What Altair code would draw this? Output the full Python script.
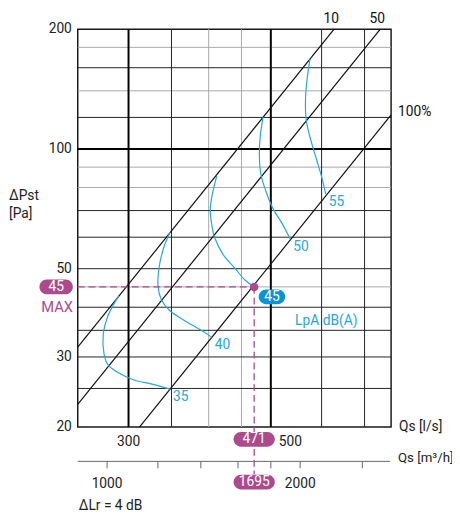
import altair as alt
import pandas as pd

FONT = "Roboto"
FS = 14
BLUE = "#27a6e0"
BLUE_BUBBLE = "#0a93d6"
PURPLE = "#ad4a8c"
DARK = "#222222"
LIGHT = "#a8a8a8"

# grid / tick values
x_grid_major = [300, 500]
x_grid_dark = [350, 600, 700]
x_grid_light = [400, 450]
y_grid_major = [100]
y_grid_dark = [25, 30, 35, 40, 50, 60, 70, 120, 160]
y_grid_light = [45, 80, 90, 140, 180]
y_labels = [20, 30, 50, 100, 200]
m3h_ticks = [1000, 1200, 1400, 1600, 1800, 2000, 2500]
m3h_labels = [1000, 2000]

# system lines (dp ~ Q^2), end points
sys_names = ["10", "50", "100%"]
sys_q = [[250, 627.5], [250, 740.7], [312.0, 770]]
sys_p = [[31.75, 200], [22.8, 200], [20, 121.8]]

# LpA iso-curves
curve_levels = [35, 40, 45, 50, 55]
curve_q = [
    [289.6, 284.5, 278.0, 274.0, 274.7, 278.6, 287.9, 305.3, 327.6, 348.2],
    [348.2, 340.1, 334.7, 333.5, 337.3, 347.4, 368.3, 390.7, 404.7],
    [411.9, 405.7, 402.3, 404.7, 408.5, 421.9, 439.3, 455.1, 471.0],
    [486.5, 481.5, 479.8, 482.7, 491.3, 503.0, 521.0, 536.4],
    [575.6, 569.0, 566.2, 567.6, 575.6, 589.4, 599.8, 609.0],
]
curve_p = [
    [42.7, 40.7, 37.7, 34.3, 30.6, 28.7, 27.5, 26.3, 25.6, 24.9],
    [61.8, 56.2, 50.2, 45.2, 41.9, 39.3, 36.9, 34.9, 33.6],
    [85.6, 77.5, 70.5, 64.2, 60.0, 54.1, 50.2, 46.9, 45.0],
    [120.6, 108.1, 96.5, 86.1, 78.3, 71.2, 64.8, 59.3],
    [168.6, 147.7, 131.8, 118.7, 107.0, 93.8, 85.3, 77.0],
]

# operating point
op_q = 471
op_p = 45
op_m3h = 1695
op_lpa = 45

W, H = 319, 405
xs = alt.Scale(type="log", domain=[250, 770], nice=False, zero=False)
ys = alt.Scale(type="log", domain=[20, 200], nice=False, zero=False)
X = lambda f="q": alt.X(f"{f}:Q", scale=xs, axis=None)
Y = lambda f="p": alt.Y(f"{f}:Q", scale=ys, axis=None)


def vrules(vals, color, width):
    return alt.Chart(pd.DataFrame({"q": vals})).mark_rule(
        color=color, strokeWidth=width).encode(x=X())


def hrules(vals, color, width):
    return alt.Chart(pd.DataFrame({"p": vals})).mark_rule(
        color=color, strokeWidth=width).encode(y=Y())


def pill(w, h):
    r = h / 2
    a = w / 2 - r
    return (f"M{-a},{-r}H{a}A{r},{r},0,0,1,{a},{r}H{-a}"
            f"A{r},{r},0,0,1,{-a},{-r}Z")


def label(text, x, y, **kw):
    return alt.Chart(pd.DataFrame({"t": [text]})).mark_text(**kw).encode(
        text="t:N", x=x, y=y)


layers = []
layers += [vrules(x_grid_light, LIGHT, 1), hrules(y_grid_light, LIGHT, 1),
           vrules(x_grid_dark, DARK, 1), hrules(y_grid_dark, DARK, 1),
           vrules(x_grid_major, "#000", 2), hrules(y_grid_major, "#000", 2)]

# system lines
rows = []
for n, qs, ps in zip(sys_names, sys_q, sys_p):
    for i, (q, p) in enumerate(zip(qs, ps)):
        rows.append({"name": n, "q": q, "p": p, "i": i})
sys_df = pd.DataFrame(rows)
layers.append(alt.Chart(sys_df).mark_line(color="#111", strokeWidth=1.2).encode(
    x=X(), y=Y(), detail="name:N", order="i:Q"))

# curves
rows = []
for lv, qs, ps in zip(curve_levels, curve_q, curve_p):
    for i, (q, p) in enumerate(zip(qs, ps)):
        rows.append({"lvl": str(lv), "q": q, "p": p, "i": i})
cdf = pd.DataFrame(rows)
layers.append(alt.Chart(cdf).mark_line(color=BLUE, strokeWidth=1.2,
                                       interpolate="catmull-rom").encode(
    x=X(), y=Y(), detail="lvl:N", order="i:Q"))

# curve labels at curve ends
ends = pd.DataFrame([{"t": str(lv), "q": qs[-1], "p": ps[-1]}
                     for lv, qs, ps in zip(curve_levels, curve_q, curve_p)
                     if lv != op_lpa])
layers.append(alt.Chart(ends).mark_text(align="left", baseline="middle", dx=3, dy=8,
                                        fontSize=FS, color=BLUE).encode(
    x=X(), y=Y(), text="t:N"))

# system line labels
top_lab = sys_df[(sys_df.i == 1) & (sys_df.name != "100%")]
layers.append(alt.Chart(top_lab).mark_text(align="center", baseline="middle", dx=-3, dy=-10,
                                           fontSize=FS, color="#111").encode(
    x=X(), y=Y(), text="name:N"))
right_lab = sys_df[(sys_df.i == 1) & (sys_df.name == "100%")]
layers.append(alt.Chart(right_lab).mark_text(align="left", baseline="middle", dx=7, dy=-3,
                                             fontSize=FS, color="#111").encode(
    x=X(), y=Y(), text="name:N"))

# y axis labels
layers.append(alt.Chart(pd.DataFrame({"p": y_labels})).mark_text(
    align="right", baseline="middle", fontSize=FS, color="#222").encode(
    y=Y(), x=alt.value(-6), text="p:Q"))
# x axis labels (l/s)
layers.append(label("300", alt.X("q:Q", scale=xs, axis=None), alt.value(420),
                    fontSize=FS, color="#222").transform_calculate(q="300"))
layers.append(label("500", alt.X("q:Q", scale=xs, axis=None), alt.value(420),
                    fontSize=FS, color="#222", dx=20).transform_calculate(q="500"))

# m3/h axis
layers.append(alt.Chart(pd.DataFrame({"a": [0]})).mark_rule(color="#666", strokeWidth=1).encode(
    x=alt.value(0), x2=alt.value(318), y=alt.value(440)))
mt = pd.DataFrame({"m3h": m3h_ticks})
layers.append(alt.Chart(mt).transform_calculate(q="datum.m3h / 3.6").mark_rule(
    color="#666", strokeWidth=1).encode(x=X(), y=alt.value(440), y2=alt.value(447)))
ml = pd.DataFrame({"m3h": m3h_labels})
layers.append(alt.Chart(ml).transform_calculate(q="datum.m3h / 3.6").mark_text(
    baseline="middle", fontSize=FS, color="#222").encode(
    x=X(), y=alt.value(463), text="m3h:Q"))

# operating point annotations
op = pd.DataFrame({"q": [op_q], "p": [op_p], "m3h": [op_m3h], "lpa": [op_lpa]})
hd = pd.DataFrame({"q": [xs.domain[0], op_q], "p": [op_p, op_p], "i": [0, 1]})
layers.append(alt.Chart(hd).mark_line(color=PURPLE, strokeWidth=1.3, strokeDash=[7, 4]).encode(
    x=X(), y=Y(), order="i:Q"))
layers.append(alt.Chart(op).mark_rule(color=PURPLE, strokeWidth=1.3, strokeDash=[7, 4]).encode(
    x=X(), y=Y(), y2=alt.value(453)))
layers.append(alt.Chart(op).mark_circle(size=75, color=PURPLE, opacity=1).encode(x=X(), y=Y()))

# bubbles
layers.append(alt.Chart(op).mark_point(shape=pill(34, 15), size=4, filled=True, color=PURPLE,
                                       opacity=1, strokeWidth=0).encode(
    x=alt.value(-22), y=Y()))
layers.append(alt.Chart(op).mark_text(fontSize=FS, color="white", baseline="middle").encode(
    x=alt.value(-22), y=Y(), text="p:Q"))
layers.append(alt.Chart(op).mark_text(fontSize=15, color=PURPLE, baseline="middle", dy=21).encode(
    x=alt.value(-21), y=Y(), text=alt.value("MAX")))

layers.append(alt.Chart(op).mark_point(shape=pill(27, 15), size=4, filled=True, color=BLUE_BUBBLE,
                                       opacity=1, strokeWidth=0).encode(
    x=alt.value(197.7), y=alt.value(272.5)))
layers.append(alt.Chart(op).mark_text(fontSize=FS, color="white", baseline="middle").encode(
    x=alt.value(197.7), y=alt.value(272.5), text="lpa:Q"))

layers.append(alt.Chart(op).mark_point(shape=pill(42, 15), size=4, filled=True, color=PURPLE,
                                       opacity=1, strokeWidth=0).encode(
    x=X(), y=alt.value(417.5)))
layers.append(alt.Chart(op).mark_text(fontSize=FS, color="white", baseline="middle").encode(
    x=X(), y=alt.value(417.5), text="q:Q"))
layers.append(alt.Chart(op).mark_point(shape=pill(42, 15), size=4, filled=True, color=PURPLE,
                                       opacity=1, strokeWidth=0).encode(
    x=X(), y=alt.value(461)))
layers.append(alt.Chart(op).mark_text(fontSize=FS, color="white", baseline="middle").encode(
    x=X(), y=alt.value(461), text="m3h:Q"))

# free texts
layers.append(label("LpA dB(A)", alt.value(253), alt.value(297), fontSize=FS, color=BLUE,
                    baseline="middle"))
layers.append(label("ΔPst", alt.value(-70), alt.value(170), fontSize=FS, color="#222",
                    align="left", baseline="middle"))
layers.append(label("[Pa]", alt.value(-70), alt.value(188), fontSize=FS, color="#222",
                    align="left", baseline="middle"))
layers.append(label("Qs [l/s]", alt.value(327), alt.value(405), fontSize=FS, color="#222",
                    align="left", baseline="middle"))
layers.append(label("Qs [m³/h]", alt.value(326), alt.value(437), fontSize=13.5, color="#222",
                    align="left", baseline="middle"))
layers.append(label("ΔLr = 4 dB", alt.value(1), alt.value(485), fontSize=FS, color="#222",
                    align="left", baseline="middle"))

chart = alt.layer(*layers).properties(
    width=W, height=H,
    padding={"left": 71, "top": 17, "right": 62, "bottom": 84},
    autosize=alt.AutoSizeParams(type="none"),
).configure_view(stroke="#1a1a1a", strokeWidth=1.5).configure_text(font=FONT)

chart.save("out.html", embed_options={"renderer": "svg", "actions": False})
